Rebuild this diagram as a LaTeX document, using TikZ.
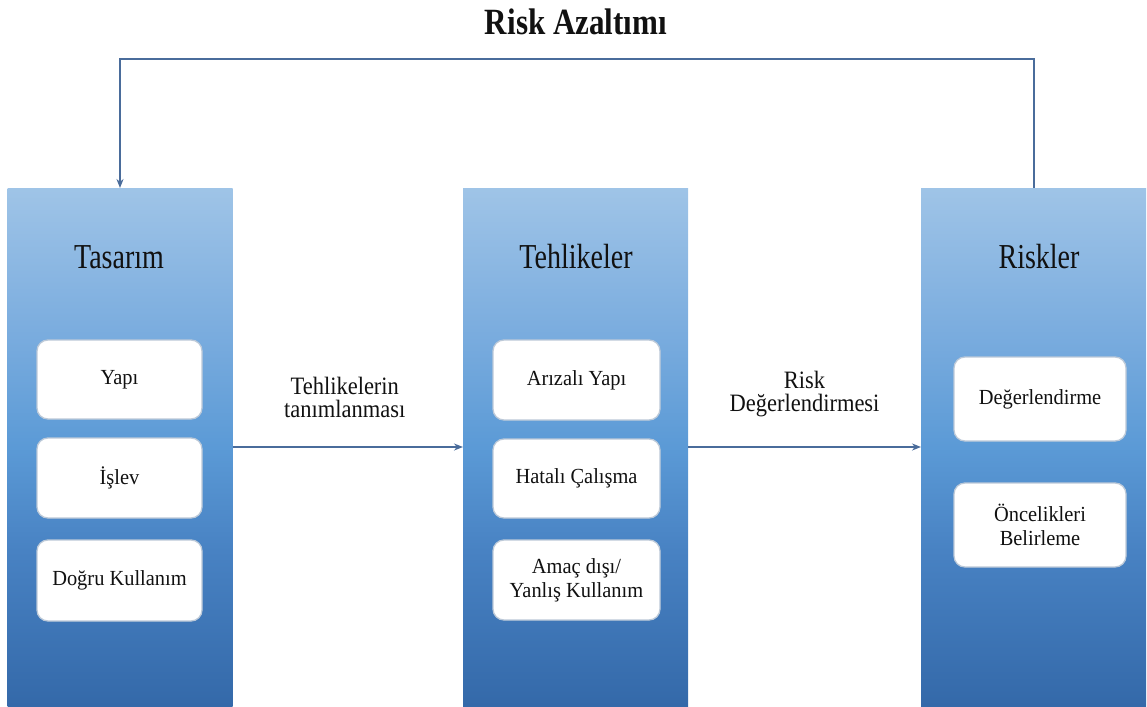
\documentclass[tikz,border=0pt]{standalone}
\usepackage{fontspec}
\setmainfont{Liberation Serif}
\newfontfamily\titlefont[FakeStretch=0.84]{Liberation Serif}
\newfontfamily\headfont[FakeStretch=0.80]{Liberation Serif}
\newfontfamily\lblfont[FakeStretch=0.90]{Liberation Serif}
\newfontfamily\itemfont[FakeStretch=0.95]{Liberation Serif}
\usetikzlibrary{arrows.meta,calc}

\definecolor{coltop}{HTML}{9FC4E7}
\definecolor{colupper}{HTML}{7DAEDF}
\definecolor{colmid}{HTML}{5B9AD6}
\definecolor{collower}{HTML}{4882C3}
\definecolor{colbot}{HTML}{3469A9}
\definecolor{arrowblue}{HTML}{4A6C9B}
\definecolor{itemedge}{HTML}{BCC9D8}
\definecolor{ink}{HTML}{111111}

% vertical gradient of the column bodies (bottom to top)
\pgfdeclareverticalshading{columnshade}{100bp}{%
  color(0bp)=(colbot); color(25bp)=(colbot);
  color(40bp)=(collower); color(50bp)=(colmid);
  color(62bp)=(colupper); color(75bp)=(coltop); color(100bp)=(coltop)}

\tikzset{
  column/.style={rectangle, inner sep=0pt, outer sep=0pt,
    minimum width=225pt, minimum height=518pt, shading=columnshade},
  head/.style={anchor=base, text=ink, font=\headfont\fontsize{35}{38}\selectfont},
  item/.style={rectangle, rounded corners=11pt, fill=white, draw=itemedge,
    line width=1.3pt, align=center, text=ink,
    font=\itemfont\fontsize{21.5}{25}\selectfont, inner sep=0pt},
  lbl/.style={align=center, text=ink, font=\lblfont\fontsize{25}{23}\selectfont},
  conn/.style={draw=arrowblue, line width=2pt,
    -{Stealth[length=9pt,width=7pt]}},
}

\begin{document}
\begin{tikzpicture}[x=1pt, y=-1pt]
  \useasboundingbox (0,0) rectangle (1147,706);

  % title
  \node[anchor=base, text=ink, font=\titlefont\bfseries\fontsize{37}{40}\selectfont]
    (title) at (576,35) {Risk Azaltımı};

  % the three columns
  \node[column] (tas) at (120,447) {};
  \node[column] (teh) at (575.5,447) {};
  \node[column] (ris) at (1033.5,447) {};

  % column headings
  \node[head] (htas) at (119,268) {Tasarım};
  \node[head] (hteh) at (576,268) {Tehlikeler};
  \node[head] (hris) at (1039,268) {Riskler};

  % design items
  \node[item, minimum width=165pt, minimum height=79pt] (yapi) at (119.5,379.5) {Yapı};
  \node[item, minimum width=165pt, minimum height=80pt] (islev) at (119.5,478) {İşlev};
  \node[item, minimum width=165pt, minimum height=81pt] (dogru) at (119.5,580.5) {Doğru Kullanım};

  % hazard items
  \node[item, minimum width=167pt, minimum height=80pt] (ariza) at (576.5,380) {Arızalı Yapı};
  \node[item, minimum width=167pt, minimum height=79pt] (hatali) at (576.5,478.5) {Hatalı Çalışma};
  \node[item, minimum width=167pt, minimum height=80pt] (amac) at (576.5,580) {Amaç dışı/\\[-1pt]Yanlış Kullanım};

  % risk items
  \node[item, minimum width=172pt, minimum height=84pt] (deger) at (1040,399) {Değerlendirme};
  \node[item, minimum width=172pt, minimum height=84pt] (oncel) at (1040,525) {Öncelikleri\\[-1pt]Belirleme};

  % flow between columns
  \draw[conn] (tas.east) -- (teh.west);
  \draw[conn] (teh.east) -- (ris.west);
  \node[lbl] (ltan) at ($(tas.east)!0.5!(teh.west)+(-3,-50)$) {Tehlikelerin\\tanımlanması};
  \node[lbl] (lris) at ($(teh.east)!0.5!(ris.west)+(0,-53)$) {Risk\\Değerlendirmesi};

  % risk reduction feedback loop
  \draw[conn] (ris.north) -- ++(0,-129) -| (tas.north);
\end{tikzpicture}
\end{document}
